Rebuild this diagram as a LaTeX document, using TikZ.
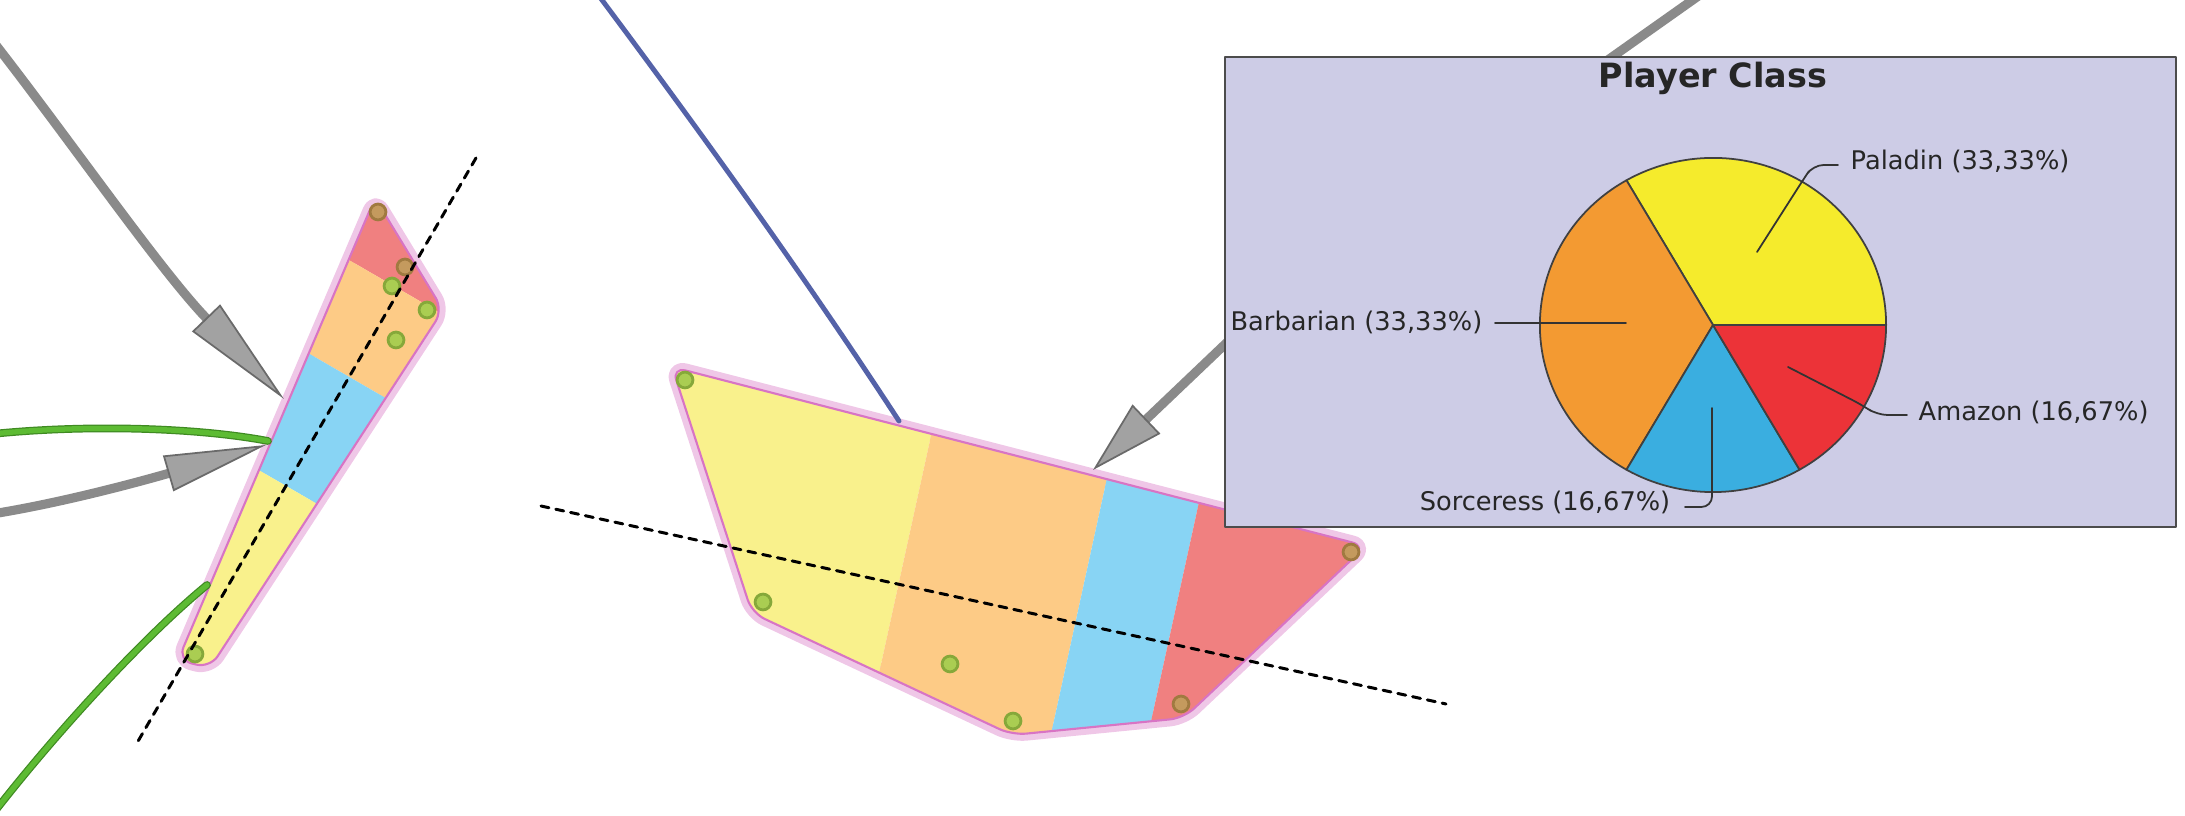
\documentclass[tikz,border=0pt]{standalone}
\usepackage{fontspec}
\setmainfont{DejaVu Sans}
\usetikzlibrary{arrows.meta}
\definecolor{BandRed}{HTML}{F08080}
\definecolor{BandOrange}{HTML}{FDCB86}
\definecolor{BandBlue}{HTML}{88D4F4}
\definecolor{BandYellow}{HTML}{F9F18C}
\definecolor{HullPink}{HTML}{D874C4}
\definecolor{DotGreen}{HTML}{AACD52}
\definecolor{DotGreenEdge}{HTML}{86A83A}
\definecolor{DotBrown}{HTML}{C49A5E}
\definecolor{DotBrownEdge}{HTML}{A07A40}
\definecolor{ShaftGray}{HTML}{8A8A8A}
\definecolor{HeadGray}{HTML}{A2A2A2}
\definecolor{EdgeGray}{HTML}{6A6A6A}
\definecolor{LinkGreen}{HTML}{5DBB33}
\definecolor{LinkGreenEdge}{HTML}{3F8A22}
\definecolor{LinkBlue}{HTML}{5462A8}
\definecolor{ChartBack}{HTML}{CDCCE6}
\definecolor{PieYellow}{HTML}{F5EB2C}
\definecolor{PieOrange}{HTML}{F39A32}
\definecolor{PieBlue}{HTML}{3AAEE0}
\definecolor{PieRed}{HTML}{EC3338}

\begin{document}
\begin{tikzpicture}[x=0.01cm,y=-0.01cm,line cap=round,line join=round,
  hull/.style={draw=HullPink,line width=0.6pt,rounded corners=4pt},
  glow/.style={draw=HullPink!40,line width=4pt,rounded corners=4pt},
  cutline/.style={line width=0.85pt,dash pattern=on 2.3pt off 2pt},
  gdot/.style={circle,fill=DotGreen,draw=DotGreenEdge,line width=0.8pt,minimum size=4.5pt,inner sep=0},
  bdot/.style={gdot,fill=DotBrown,draw=DotBrownEdge},
  shaft/.style={ShaftGray,line width=2.6pt},
  grayhead/.style 2 args={-{Triangle[length=#1,width=#2,fill=HeadGray,color=EdgeGray,line width=0.5pt]}},
  link/.style={draw=LinkGreenEdge,double=LinkGreen,double distance=1.5pt,line width=0.35pt},
  leader/.style={draw=black!80,line width=0.5pt,rounded corners=3pt},
  lbl/.style={inner sep=0,font=\fontsize{7.3}{9}\selectfont,text=black!85}]
  \useasboundingbox (0,0) rectangle (2185,816);
  \coordinate (T) at (375,198); \coordinate (R) at (443,310); \coordinate (BR) at (210,668); \coordinate (BL) at (178,660);
  \coordinate (LA) at (476,158); \coordinate (LB) at (137,743);
  \coordinate (P1) at (672,367); \coordinate (P2) at (1366,546); \coordinate (P3) at (1184,718);
  \coordinate (P4) at (1012,735); \coordinate (P5) at (752,613);
  \coordinate (RA) at (541,506); \coordinate (RB) at (1446,704);
  % left wedge
  \draw[glow] (T)--(R)--(BR)--(BL)--cycle;
  \begin{scope}
    \clip[rounded corners=4pt] (T)--(R)--(BR)--(BL)--cycle;
    \begin{scope}[shift={(LA)},rotate=-120.1]
      \fill[BandRed] (-100,-300) rectangle (152,300); \fill[BandOrange] (152,-300) rectangle (253,300);
      \fill[BandBlue] (253,-300) rectangle (379,300); \fill[BandYellow] (379,-300) rectangle (800,300);
    \end{scope}
  \end{scope}
  \draw[hull] (T)--(R)--(BR)--(BL)--cycle;
  % right hull
  \draw[glow] (P1)--(P2)--(P3)--(P4)--(P5)--cycle;
  \begin{scope}
    \clip[rounded corners=4pt] (P1)--(P2)--(P3)--(P4)--(P5)--cycle;
    \begin{scope}[shift={(RA)},rotate=-12.34]
      \fill[BandYellow] (-100,-400) rectangle (366,400); \fill[BandOrange] (366,-400) rectangle (547,400);
      \fill[BandBlue] (547,-400) rectangle (642,400); \fill[BandRed] (642,-400) rectangle (1000,400);
    \end{scope}
  \end{scope}
  \draw[hull] (P1)--(P2)--(P3)--(P4)--(P5)--cycle;
  \node[bdot] (ld1) at (378,212) {}; \node[bdot] (ld2) at (405,267) {}; \node[gdot] (ld3) at (392,286) {};
  \node[gdot] (ld4) at (427,310) {}; \node[gdot] (ld5) at (396,340) {}; \node[gdot] (ld6) at (195,654) {};
  \node[gdot] (rd1) at (685,380) {}; \node[gdot] (rd2) at (763,602) {}; \node[gdot] (rd3) at (950,664) {};
  \node[gdot] (rd4) at (1013,721) {}; \node[bdot] (rd5) at (1181,704) {}; \node[bdot] (rd6) at (1351,552) {};
  \draw[cutline] (LA)--(LB); \draw[cutline] (RA)--(RB);
  % links and arrows
  \coordinate (k1s) at (-8,434); \coordinate (k1e) at (268,441); \coordinate (k2s) at (-8,815); \coordinate (k2e) at (207,585);
  \draw[link] (k1s) .. controls (90,424) and (200,428) .. (k1e);
  \draw[link] (k2s) .. controls (50,740) and (140,640) .. (k2e);
  \coordinate (b1s) at (596,-8); \coordinate (b1e) at (899,421);
  \draw[LinkBlue,line width=1.4pt] (b1s) .. controls (703,135) and (805,277) .. (b1e);
  \coordinate (g1s) at (-8,40); \coordinate (g1t) at (284,399); \coordinate (g2s) at (-8,514); \coordinate (g2t) at (266,445);
  \draw[shaft,grayhead={32pt}{11pt}] (g1s) .. controls (70,140) and (160,270) .. (g1t);
  \draw[shaft,grayhead={29pt}{10.5pt}] (g2s) .. controls (80,500) and (180,470) .. (g2t);
  \coordinate (g3s) at (1240,330); \coordinate (g3t) at (1093,470); \coordinate (g4s) at (1704,-8); \coordinate (g4e) at (1605,62);
  \draw[shaft,grayhead={21pt}{11.4pt}] (g3s)--(g3t); \draw[shaft] (g4s)--(g4e);
  % chart
  \draw[fill=ChartBack,draw=black!70,line width=0.7pt] (1225,57) rectangle (2176,527);
  \node[font=\bfseries\fontsize{9.5}{11}\selectfont,anchor=base,inner sep=0,text=black!85] (title) at (1713,88) {Player Class};
  \coordinate (pc) at (1713,325);
  \foreach \a/\b/\c in {0/120/PieYellow,120/240/PieOrange,240/300/PieBlue,300/360/PieRed}
    \draw[fill=\c,draw=black!75,line width=0.5pt] (pc) -- ++(\a:1.73cm and 1.67cm) arc[start angle=\a,end angle=\b,x radius=1.73cm,y radius=1.67cm] -- cycle;
  \node[lbl,anchor=base west] (lpal) at (1850,170) {Paladin (33,33\%)};
  \node[lbl,anchor=base east] (lbar) at (1483,331) {Barbarian (33,33\%)};
  \node[lbl,anchor=base west] (lama) at (1918,421) {Amazon (16,67\%)};
  \node[lbl,anchor=base east] (lsor) at (1671,511) {Sorceress (16,67\%)};
  \coordinate (palIn) at (1757,252); \coordinate (palOut) at (1838,165); \coordinate (barIn) at (1626,323); \coordinate (barOut) at (1495,323);
  \coordinate (amaIn) at (1788,367); \coordinate (amaOut) at (1907,415); \coordinate (sorIn) at (1712,408); \coordinate (sorOut) at (1685,507);
  \draw[leader] (palIn) -- (1803,180) -- (1813,165) -- (palOut); \draw[leader] (barIn) -- (barOut);
  \draw[leader] (amaIn) -- (1862,405) -- (1877,415) -- (amaOut); \draw[leader] (sorIn) -- (1712,507) -- (sorOut);
\end{tikzpicture}
\end{document}
